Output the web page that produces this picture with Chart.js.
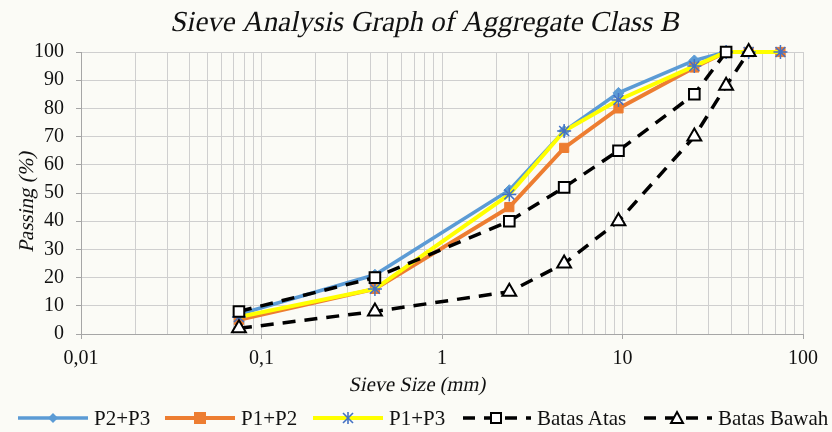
<!DOCTYPE html>
<html>
<head>
<meta charset="utf-8">
<script src="https://cdn.jsdelivr.net/npm/chart.js@4/dist/chart.umd.min.js"></script>
<style>
  html, body { margin: 0; padding: 0; background: #fbfbf6; }
  #wrap { position: relative; width: 832px; height: 432px; overflow: hidden; background: #fbfbf6; }
  #chart { position: absolute; left: 0; top: 0; }
  .leg { position: absolute; top: 405px; height: 26px; display: flex; align-items: center;
         font-family: 'Liberation Serif', 'Times New Roman', serif; font-size: 21px; color: #111; white-space: nowrap; }
  .leg svg { margin-right: 6px; }
</style>
</head>
<body>
<div id="wrap">
  <canvas id="chart" width="832" height="432"></canvas>
  <div id="legend"></div>
</div>
<script>
// ---- data ----
const sieveSizes = [0.075, 0.425, 2.36, 4.75, 9.5, 25, 37.5, 50, 75];
const p2p3 = [7, 21, 51, 72, 85.5, 97, 100, 100, 100];
const p1p2 = [5, 16, 45, 66, 80, 94.5, 100, 100, 100];
const p1p3 = [6, 16, 49.5, 72, 83, 95, 100, 100, 100];
const batasAtas = [8, 20, 40, 52, 65, 85, 100, null, null];
const batasBawah = [2, 8, 15, 25, 40, 70, 88, 100, null];
const seriesNames = ['P2+P3', 'P1+P2', 'P1+P3', 'Batas Atas', 'Batas Bawah'];
const xMajorTicks = [0.01, 0.1, 1, 10, 100];
const yTicks = [0, 10, 20, 30, 40, 50, 60, 70, 80, 90, 100];
const titleText = 'Sieve Analysis Graph of Aggregate Class B';
const xTitle = 'Sieve Size (mm)';
const yTitle = 'Passing (%)';

const FONT = "'Liberation Serif', 'Times New Roman', serif";
const toPts = arr => sieveSizes.map((s, i) => ({ x: s, y: arr[i] })).filter(p => p.y !== null);

const xTickValues = [];
for (let d = 0; d < xMajorTicks.length - 1; d++) {
  for (let m = 1; m <= 9; m++) xTickValues.push(parseFloat((m * xMajorTicks[d]).toPrecision(3)));
}
xTickValues.push(xMajorTicks[xMajorTicks.length - 1]);
const isMajor = v => xMajorTicks.some(t => Math.abs(t - v) < t * 1e-6);

// slanted (italic-like) text drawn from the regular serif face
function slantText(ctx, text, x, y, size, rot) {
  ctx.save();
  ctx.font = size + 'px ' + FONT;
  ctx.fillStyle = '#111';
  ctx.textAlign = 'center';
  ctx.textBaseline = 'middle';
  ctx.translate(x, y);
  if (rot) ctx.rotate(rot);
  ctx.transform(1, 0, -0.2, 1, 0, 0);
  ctx.fillText(text, 0, 0);
  ctx.restore();
}

const titlePlugin = {
  id: 'customTitles',
  afterDraw(chart) {
    const ctx = chart.ctx;
    const a = chart.chartArea;
    slantText(ctx, titleText, 426, 23, 29, 0);
    slantText(ctx, xTitle, (a.left + a.right) / 2 - 24, 386, 20.5, 0);
    slantText(ctx, yTitle, 27, 201, 21, -Math.PI / 2);
  }
};

const colors = { blue: '#5B9BD5', orange: '#ED7D31', yellow: '#FFFF00', star: '#4472C4' };

new Chart(document.getElementById('chart'), {
  type: 'line',
  data: {
    datasets: [
      { label: seriesNames[0], data: toPts(p2p3), borderColor: colors.blue, backgroundColor: colors.blue,
        borderWidth: 3.5, pointStyle: 'rectRot', pointRadius: 5.5, pointBorderWidth: 1, order: 5, clip: false },
      { label: seriesNames[1], data: toPts(p1p2), borderColor: colors.orange, backgroundColor: colors.orange,
        borderWidth: 4, pointStyle: 'rect', pointRadius: 6.5, pointBorderWidth: 1, order: 4, clip: false },
      { label: seriesNames[2], data: toPts(p1p3), borderColor: colors.yellow, backgroundColor: colors.star,
        pointBorderColor: colors.star, borderWidth: 4, pointStyle: 'star', pointRadius: 7, pointBorderWidth: 1.5, order: 3, clip: false },
      { label: seriesNames[3], data: toPts(batasAtas), borderColor: '#000', backgroundColor: '#fff',
        pointBorderColor: '#000', borderWidth: 3.5, borderDash: [13, 9], pointStyle: 'rect', pointRadius: 7.5, pointBorderWidth: 2, order: 2, clip: false },
      { label: seriesNames[4], data: toPts(batasBawah), borderColor: '#000', backgroundColor: '#fff',
        pointBorderColor: '#000', borderWidth: 3.5, borderDash: [13, 9], pointStyle: 'triangle', pointRadius: 8, pointBorderWidth: 2, order: 1, clip: false }
    ]
  },
  options: {
    responsive: false,
    animation: false,
    events: [],
    layout: { padding: { top: 52, right: 29, bottom: 36, left: 0 } },
    plugins: { legend: { display: false }, title: { display: false }, tooltip: { enabled: false } },
    scales: {
      x: {
        type: 'logarithmic',
        min: 0.01, max: 100,
        afterBuildTicks: s => { s.ticks = xTickValues.map(v => ({ value: v, major: isMajor(v) })); },
        afterFit: s => { s.height = 62; },
        ticks: {
          autoSkip: false, maxRotation: 0, minRotation: 0, padding: 8, color: '#111',
          font: { family: FONT, size: 20 },
          callback: v => isMajor(v) ? String(v).replace('.', ',') : ''
        },
        grid: {
          color: '#cfcfcf', lineWidth: 1, tickLength: 5,
          tickColor: c => (c.tick && isMajor(c.tick.value)) ? '#a6a6a6' : 'rgba(0,0,0,0)'
        },
        border: { color: '#a6a6a6', width: 1 },
        title: { display: false }
      },
      y: {
        min: 0, max: 100,
        afterBuildTicks: s => { s.ticks = yTicks.map(v => ({ value: v })); },
        afterFit: s => { s.width = 81; },
        ticks: { padding: 12, color: '#111', font: { family: FONT, size: 20 } },
        grid: { color: '#cfcfcf', lineWidth: 1, tickLength: 5, tickColor: '#a6a6a6' },
        border: { color: '#a6a6a6', width: 1 },
        title: { display: false }
      }
    }
  },
  plugins: [titlePlugin]
});

// ---- HTML legend ----
function marker(kind) {
  switch (kind) {
    case 0: return `<polygon points="35,5 40,10 35,15 30,10" fill="${colors.blue}"/>`;
    case 1: return `<rect x="29" y="4" width="12" height="12" fill="${colors.orange}"/>`;
    case 2: return `<g stroke="${colors.star}" stroke-width="1.6"><line x1="30" y1="5" x2="40" y2="15"/><line x1="40" y1="5" x2="30" y2="15"/><line x1="35" y1="4" x2="35" y2="16"/></g>`;
    case 3: return `<rect x="30" y="5" width="10" height="10" fill="#fff" stroke="#000" stroke-width="2"/>`;
    case 4: return `<polygon points="35,4 41,15 29,15" fill="#fff" stroke="#000" stroke-width="2"/>`;
  }
}
const legLeft = [18, 165, 313, 461, 642];
const lineStyle = [
  `stroke="${colors.blue}" stroke-width="3.5"`,
  `stroke="${colors.orange}" stroke-width="4"`,
  `stroke="${colors.yellow}" stroke-width="4"`,
  `stroke="#000" stroke-width="3.5" stroke-dasharray="12 9" stroke-dashoffset="-2"`,
  `stroke="#000" stroke-width="3.5" stroke-dasharray="12 9" stroke-dashoffset="-2"`
];
const legend = document.getElementById('legend');
seriesNames.forEach((name, i) => {
  const div = document.createElement('div');
  div.className = 'leg';
  div.style.left = legLeft[i] + 'px';
  div.innerHTML = `<svg width="70" height="20" viewBox="0 0 70 20"><line x1="0" y1="10" x2="70" y2="10" ${lineStyle[i]}/>${marker(i)}</svg><span>${name}</span>`;
  legend.appendChild(div);
});
</script>
</body>
</html>
